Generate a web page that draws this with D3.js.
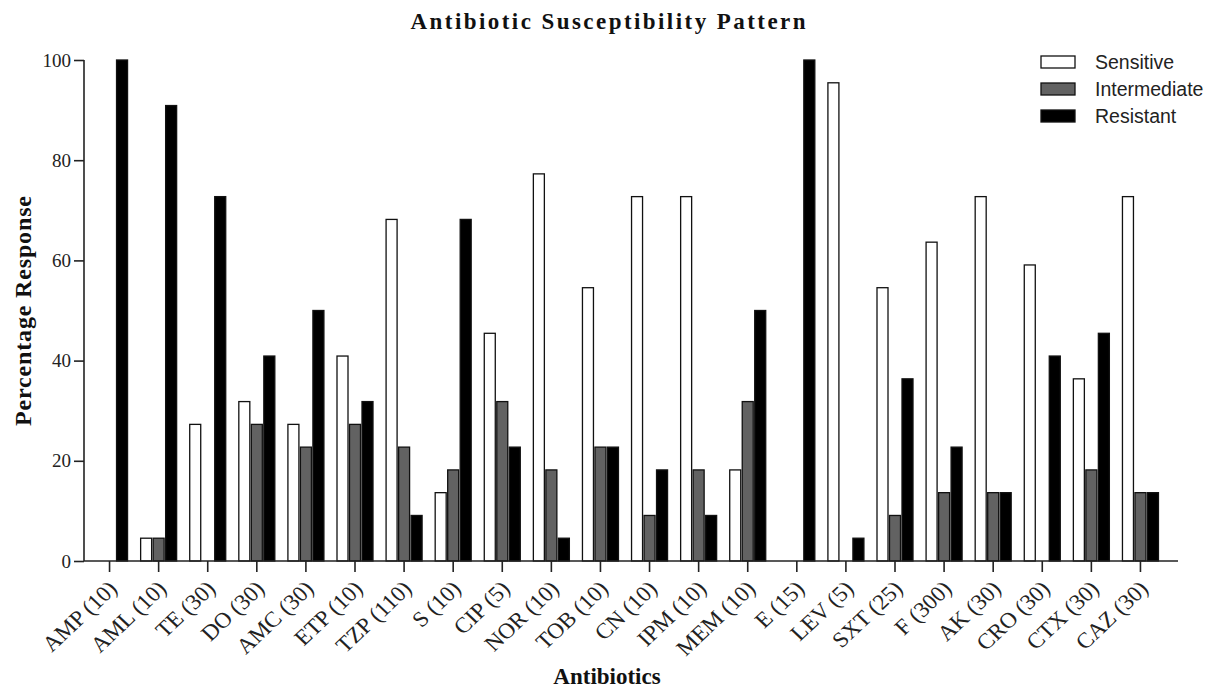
<!DOCTYPE html>
<html>
<head>
<meta charset="utf-8">
<script src="https://cdn.jsdelivr.net/npm/d3@7"></script>
<style>
  html, body { margin: 0; padding: 0; background: #fff; }
  svg { display: block; }
</style>
</head>
<body>
<svg id="chart" width="1216" height="692"></svg>
<script>
const categories = ["AMP (10)", "AML (10)", "TE (30)", "DO (30)", "AMC (30)", "ETP (10)", "TZP (110)", "S (10)", "CIP (5)", "NOR (10)", "TOB (10)", "CN (10)", "IPM (10)", "MEM (10)", "E (15)", "LEV (5)", "SXT (25)", "F (300)", "AK (30)", "CRO (30)", "CTX (30)", "CAZ (30)"];
const seriesNames = ["Sensitive", "Intermediate", "Resistant"];
const sensitive    = [0, 4.55, 27.27, 31.82, 27.27, 40.91, 68.18, 13.64, 45.45, 77.27, 54.55, 72.73, 72.73, 18.18, 0, 95.45, 54.55, 63.64, 72.73, 59.09, 36.36, 72.73];
const intermediate = [0, 4.55, 0, 27.27, 22.73, 27.27, 22.73, 18.18, 31.82, 18.18, 22.73, 9.09, 18.18, 31.82, 0, 0, 9.09, 13.64, 13.64, 0, 18.18, 13.64];
const resistant    = [100, 90.91, 72.73, 40.91, 50, 31.82, 9.09, 68.18, 22.73, 4.55, 22.73, 18.18, 9.09, 50, 100, 4.55, 36.36, 22.73, 13.64, 40.91, 45.45, 13.64];
const yTicks = [0, 20, 40, 60, 80, 100];
const seriesFill = ["#ffffff", "#626262", "#000000"];

const seriesValues = [sensitive, intermediate, resistant];
const svg = d3.select("#chart");

const x = d3.scaleBand().domain(categories).range([85, 1165]);
const inner = d3.scaleBand().domain(seriesNames).range([-18, 18]).paddingInner(0.12);
const y = d3.scaleLinear().domain([0, 100]).range([561, 60]);

// bars
categories.forEach((c, i) => {
  const g = svg.append("g").attr("transform", `translate(${x(c) + x.bandwidth() / 2},0)`);
  seriesNames.forEach((s, j) => {
    const v = seriesValues[j][i];
    if (v <= 0) return;
    g.append("rect")
      .attr("x", inner(s))
      .attr("y", y(v))
      .attr("width", inner.bandwidth())
      .attr("height", y(0) - y(v))
      .attr("fill", seriesFill[j])
      .attr("stroke", "#111")
      .attr("stroke-width", 1.3);
  });
});

// y axis
const yAxis = svg.append("g")
  .attr("transform", "translate(84,0)")
  .call(d3.axisLeft(y).tickValues(yTicks).tickSize(10).tickPadding(3));
yAxis.select(".domain").attr("stroke", "#222").attr("stroke-width", 1.6).attr("d", `M0,${y(100)}V${y(0)}`);
yAxis.selectAll(".tick line").attr("stroke", "#222").attr("stroke-width", 1.6);
yAxis.selectAll(".tick text")
  .attr("font-family", "'Liberation Serif', 'Times New Roman', serif")
  .attr("font-size", 19).attr("fill", "#222");

// x axis
const xAxis = svg.append("g")
  .attr("transform", `translate(0,${y(0)})`)
  .call(d3.axisBottom(x).tickSize(11).tickPadding(4));
xAxis.select(".domain").attr("stroke", "#222").attr("stroke-width", 1.6).attr("d", "M84,0H1178");
xAxis.selectAll(".tick line").attr("stroke", "#222").attr("stroke-width", 1.6);
xAxis.selectAll(".tick text")
  .attr("font-family", "'Liberation Serif', 'Times New Roman', serif")
  .attr("font-size", 22).attr("fill", "#222")
  .attr("text-anchor", "end")
  .attr("dy", null).attr("y", null)
  .attr("transform", "translate(9,29) scale(1.06,1) rotate(-45)");

// title
svg.append("text")
  .attr("x", 608).attr("y", 29)
  .attr("text-anchor", "middle")
  .attr("font-family", "'Liberation Serif', 'Times New Roman', serif")
  .attr("font-weight", "bold").attr("font-size", 23)
  .attr("textLength", 395).attr("lengthAdjust", "spacing")
  .attr("fill", "#111")
  .text("Antibiotic Susceptibility Pattern");

// x title
svg.append("text")
  .attr("x", 607).attr("y", 684)
  .attr("text-anchor", "middle")
  .attr("font-family", "'Liberation Serif', 'Times New Roman', serif")
  .attr("font-weight", "bold").attr("font-size", 23)
  .attr("fill", "#111")
  .text("Antibiotics");

// y title
svg.append("text")
  .attr("transform", "translate(31,311) rotate(-90)")
  .attr("text-anchor", "middle")
  .attr("font-family", "'Liberation Serif', 'Times New Roman', serif")
  .attr("font-weight", "bold").attr("font-size", 24)
  .attr("textLength", 230).attr("lengthAdjust", "spacing")
  .attr("fill", "#111")
  .text("Percentage Response");

// legend
const legend = svg.append("g").attr("transform", "translate(1041,56)");
seriesNames.forEach((s, j) => {
  const row = legend.append("g").attr("transform", `translate(0,${j * 27})`);
  row.append("rect").attr("x", 0).attr("y", 0).attr("width", 34).attr("height", 12)
    .attr("fill", seriesFill[j]).attr("stroke", "#111").attr("stroke-width", 1.3);
  row.append("text").attr("x", 54).attr("y", 6).attr("dy", "0.35em")
    .attr("font-family", "'Liberation Sans', Arial, sans-serif")
    .attr("font-size", 19.5).attr("fill", "#222")
    .text(s);
});
</script>
</body>
</html>
